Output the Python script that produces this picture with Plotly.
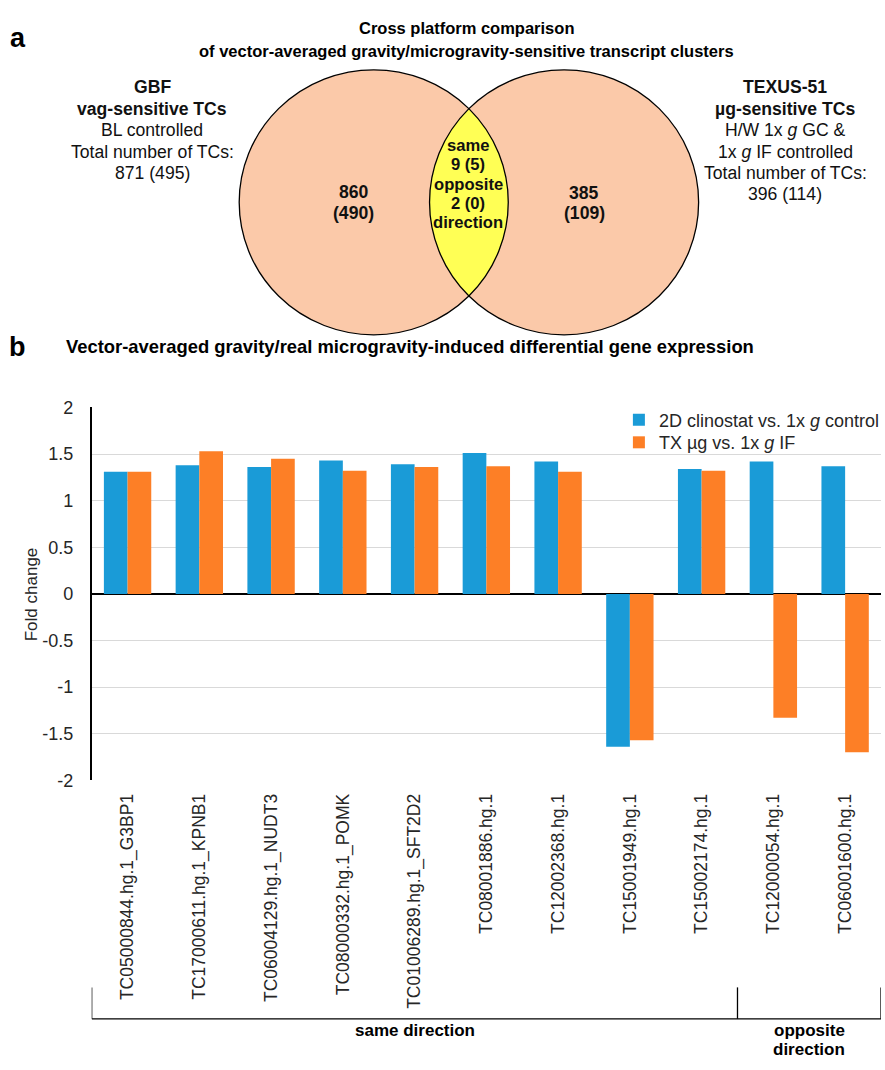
import numpy as np
import plotly.graph_objects as go

# ---------------- data ----------------
categories = ["TC05000844.hg.1_G3BP1", "TC17000611.hg.1_KPNB1", "TC06004129.hg.1_NUDT3",
              "TC08000332.hg.1_POMK", "TC01006289.hg.1_SFT2D2", "TC08001886.hg.1",
              "TC12002368.hg.1", "TC15001949.hg.1", "TC15002174.hg.1",
              "TC12000054.hg.1", "TC06001600.hg.1"]
clinostat = [1.31, 1.38, 1.36, 1.43, 1.39, 1.51, 1.42, -1.64, 1.34, 1.42, 1.37]
texus = [1.31, 1.53, 1.45, 1.32, 1.36, 1.37, 1.31, -1.57, 1.32, -1.33, -1.70]
series_names = ["2D clinostat vs. 1x <i>g</i> control", "TX µg vs. 1x <i>g</i> IF"]
ytick_vals = [2, 1.5, 1, 0.5, 0, -0.5, -1, -1.5, -2]
ytick_text = ["2", "1.5", "1", "0.5", "0", "-0.5", "-1", "-1.5", "-2"]
groups = [["same direction"], ["opposite", "direction"]]
group_spans = [(-0.5, 8.5), (8.5, 10.5)]

title_a = ["Cross platform comparison",
           "of vector-averaged gravity/microgravity-sensitive transcript clusters"]
title_b = "Vector-averaged gravity/real microgravity-induced differential gene expression"
venn_left_only = ["860", "(490)"]
venn_right_only = ["385", "(109)"]
venn_overlap = ["same", "9 (5)", "opposite", "2 (0)", "direction"]
venn_left_text = ["<b>GBF</b>", "<b>vag-sensitive TCs</b>", "BL controlled",
                  "Total number of TCs:", "871 (495)"]
venn_right_text = ["<b>TEXUS-51</b>", "<b>µg-sensitive TCs</b>", "H/W 1x <i>g</i> GC &amp;",
                   "1x <i>g</i> IF controlled", "Total number of TCs:", "396 (114)"]

# ---------------- styling ----------------
W, H = 885, 1070
FONT = "Liberation Sans, Arial, sans-serif"
NARROW = "Liberation Sans Narrow, Arial Narrow, Liberation Sans, Arial, sans-serif"
BLUE = "#1A9BD7"
ORANGE = "#FD7F26"
PEACH = "#FBC9A9"
YELLOW = "#FFFF55"
TXT = "#262626"

plot_l, plot_r, plot_t, plot_b = 92, 884, 405, 785

fig = go.Figure()
fig.add_trace(go.Bar(x=categories, y=clinostat, name=series_names[0], legend="legend",
                     marker=dict(color=BLUE, line=dict(width=0))))
fig.add_trace(go.Bar(x=categories, y=texus, name=series_names[1], legend="legend2",
                     marker=dict(color=ORANGE, line=dict(width=0))))
# dummy trace for overlay pixel-coordinate axes
fig.add_trace(go.Scatter(x=[None], y=[None], xaxis="x2", yaxis="y2",
                         showlegend=False, hoverinfo="skip"))

leg_common = dict(xanchor="left", yanchor="top", bgcolor="rgba(0,0,0,0)",
                  font=dict(size=18, color=TXT), itemclick=False)

fig.update_layout(
    width=W, height=H,
    margin=dict(l=0, r=0, t=0, b=0),
    paper_bgcolor="white", plot_bgcolor="rgba(0,0,0,0)",
    barmode="group", bargap=0.34, bargroupgap=0,
    font=dict(family=FONT, size=18, color=TXT),
    xaxis=dict(domain=[plot_l / W, plot_r / W], anchor="y",
               type="category", range=[-0.5, 10.5],
               tickangle=-90, tickfont=dict(size=17.5, color=TXT),
               showgrid=False, showline=False, ticks="", zeroline=False,
               ticklabelstandoff=9),
    yaxis=dict(domain=[1 - plot_b / H, 1 - plot_t / H], anchor="x",
               range=[-2, 2], tickvals=ytick_vals, ticktext=ytick_text,
               tickfont=dict(size=18, color=TXT),
               showgrid=True, gridcolor="#D9D9D9", gridwidth=1,
               zeroline=True, zerolinecolor="#000", zerolinewidth=1.5,
               showline=True, linecolor="#000", linewidth=1.5,
               ticks="", ticklabelstandoff=13),
    xaxis2=dict(domain=[0, 1], range=[0, W], visible=False, anchor="y2", fixedrange=True),
    yaxis2=dict(domain=[0, 1], range=[H, 0], visible=False, anchor="x2", fixedrange=True),
    legend=dict(x=621 / W, y=1 - 399 / H, **leg_common),
    legend2=dict(x=621 / W, y=1 - 422 / H, **leg_common),
    showlegend=True,
)

shapes = []
# Venn circles
cL = (375.0, 196.0)
cR = (566.0, 196.0)
r = 135.0
for c in (cL, cR):
    shapes.append(dict(type="circle", xref="x2", yref="y2", x0=c[0] - r, x1=c[0] + r,
                       y0=c[1] - r, y1=c[1] + r, fillcolor=PEACH, line=dict(width=0),
                       layer="below"))
# lens
d = cR[0] - cL[0]
h = np.sqrt(r ** 2 - (d / 2) ** 2)
aR = np.arctan2(h, d / 2)
ts = np.linspace(-aR, aR, 60)
pts = [(cL[0] + r * np.cos(t), cL[1] + r * np.sin(t)) for t in ts]
pts += [(cR[0] - r * np.cos(t), cR[1] - r * np.sin(t)) for t in ts]
path = "M " + " L ".join(f"{x:.2f},{y:.2f}" for x, y in pts) + " Z"
shapes.append(dict(type="path", xref="x2", yref="y2", path=path, fillcolor=YELLOW,
                   line=dict(width=0), layer="below"))
for c in (cL, cR):
    shapes.append(dict(type="circle", xref="x2", yref="y2", x0=c[0] - r, x1=c[0] + r,
                       y0=c[1] - r, y1=c[1] + r, fillcolor="rgba(0,0,0,0)",
                       line=dict(width=1.3, color="#000"), layer="below"))

# bracket under category labels
br_top, br_y = 996, 1028
for xv in (-0.5, 8.5, 10.5):
    shapes.append(dict(type="line", xref="x", yref="y2", x0=xv, x1=xv, y0=br_top, y1=br_y,
                       line=dict(color="#000", width=1.3)))
shapes.append(dict(type="line", xref="x", yref="y2", x0=-0.5, x1=10.5, y0=br_y, y1=br_y,
                   line=dict(color="#000", width=1.3)))
fig.update_layout(shapes=shapes)

ann = []
def A(text, x, y, size, family=FONT, xref="x2", color="#111", **kw):
    ann.append(dict(text=text, x=x, y=y, xref=xref, yref="y2", showarrow=False,
                    font=dict(family=family, size=size, color=color), **kw))

def block(lines, x, y0, dy, size, bold=False, **kw):
    for i, t in enumerate(lines):
        A(("<b>%s</b>" % t) if bold else t, x, y0 + i * dy, size, **kw)

A("<b>a</b>", 18, 29, 27, color="#000")
A("<b>b</b>", 18, 343, 27, color="#000")
block(title_a, 468, 18.5, 23.3, 16.5, bold=True, family=NARROW, color="#000")
A("<b>%s</b>" % title_b, 64, 343, 18.4, family=NARROW, color="#000", xanchor="left")
block(venn_left_text, 153, 78.5, 22, 17.6)
block(venn_right_text, 788, 78.5, 21.9, 17.6)
block(venn_left_only, 355, 185, 21.7, 17.6, bold=True)
block(venn_right_only, 586, 186.5, 20.5, 17.6, bold=True)
block(venn_overlap, 470, 138, 19.7, 16.6, bold=True)
A("Fold change", 31.5, 595, 17, textangle=-90, color=TXT)
for g, (a0, a1) in zip(groups, group_spans):
    block(g, (a0 + a1) / 2, 1040, 19.5, 17, bold=True, family=NARROW, xref="x", color="#000")
fig.update_layout(annotations=ann)

fig.write_html("out.html", config={"displayModeBar": False},
               post_script="document.body.style.margin='0px';")
